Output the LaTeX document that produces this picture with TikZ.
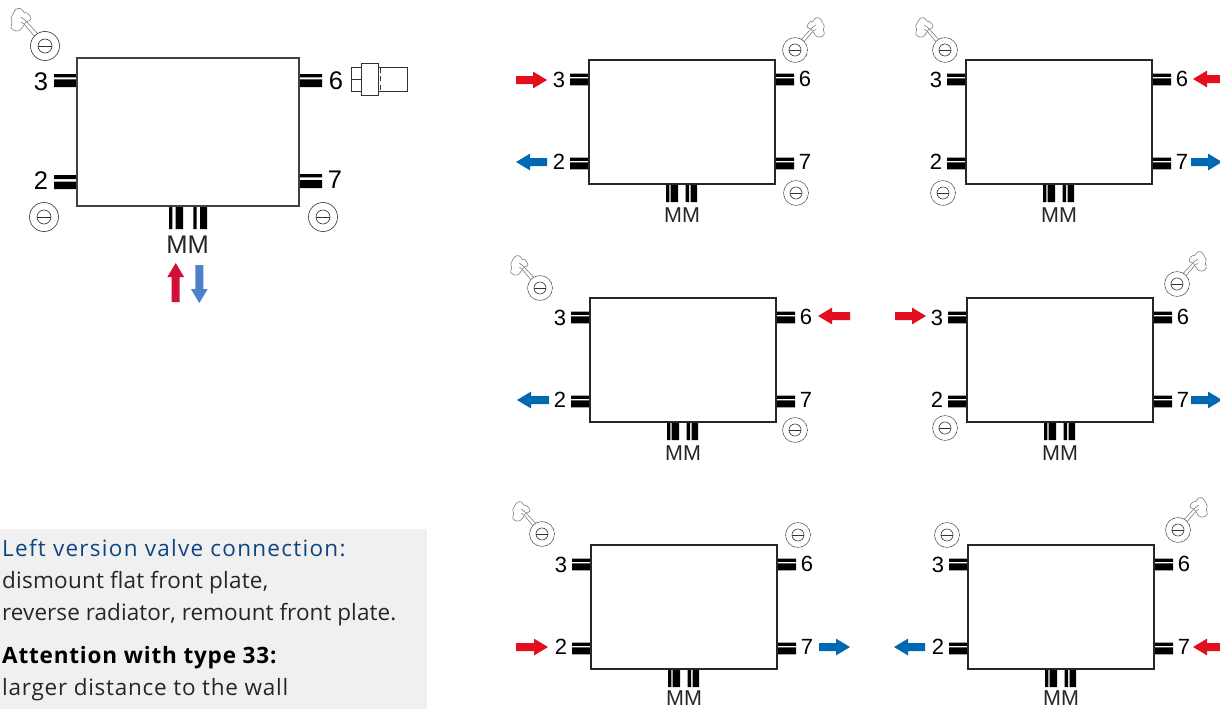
\documentclass[tikz,border=0pt]{standalone}
\usepackage{fontspec}
\setmainfont{Liberation Sans}
\newfontfamily\panelfont{Open Sans}
\definecolor{hotred}{HTML}{E30F1E}
\definecolor{coldblue}{HTML}{0069B4}
\definecolor{mainred}{HTML}{D0103A}
\definecolor{mainblue}{HTML}{4F81C7}
\definecolor{panelgray}{HTML}{F0F0F0}
\definecolor{headblue}{HTML}{0F4680}
\tikzset{
  heater/.style={draw=black!85,line width=1.1pt,fill=white,inner sep=0pt,outer sep=0pt,anchor=north west},
  numlbl/.style={inner sep=0pt,text=black,font=\fontsize{22}{22}\selectfont},
  mainlbl/.style={inner sep=0pt,text=black,font=\fontsize{25.5}{25.5}\selectfont},
  mmlbl/.style={inner sep=0pt,text=black!85,font=\fontsize{21.5}{21.5}\selectfont},
  paneltxt/.style={inner sep=0pt,anchor=base west,text=black!85},
  stub/.style={fill=black,draw=none},
  gaugeline/.style={draw=black!80,line width=0.6pt},
  fineDots/.style={dash pattern=on 0.9pt off 0.5pt},
  ventline/.style={draw=black!50,line width=0.6pt,fill=white}
}
\newcommand{\paneltext}[1]{\panelfont\fontsize{22.5}{26}\selectfont\addfontfeatures{LetterSpace=#1}}
% small radiator: top-left x,y; MM label y offset
\newcommand{\unitbox}[4]{%
  \begin{scope}[shift={(#2,#3)}]
    \fill[stub] (-19,13.5) rectangle (0,16.8) (-19,18.3) rectangle (0,25.3);
    \fill[stub] (-19,97.5) rectangle (0,100.8) (-19,102.3) rectangle (0,109.3);
    \fill[stub] (186,13.5) rectangle (205,16.8) (186,18.3) rectangle (205,25.3);
    \fill[stub] (186,97.5) rectangle (205,100.8) (186,102.3) rectangle (205,109.3);
    \fill[stub] (77,124) rectangle (80.3,142) (81.7,124) rectangle (89,142);
    \fill[stub] (96.7,124) rectangle (100,142) (101.7,124) rectangle (108,142);
    \node[heater,minimum width=186pt,minimum height=124pt] (#1) at (0,0) {};
    \node[numlbl] (#1-three) at (-30,20) {3};
    \node[numlbl] (#1-two) at (-30,102) {2};
    \node[numlbl] (#1-six) at (30+186,19) {6};
    \node[numlbl] (#1-seven) at (30+186,102) {7};
    \node[mmlbl] (#1-mm) at (93,#4) {MM};
  \end{scope}}
% gauge: name, x, y, scale, outer-ring style
\newcommand{\gauge}[5]{%
  \begin{scope}[shift={(#2,#3)},scale=#4]
    \draw[gaugeline,fill=white,#5] (0,0) circle (14.5);
    \draw[gaugeline,fill=white] (0,0) circle (7);
    \draw[gaugeline] (-7,0) -- (7,0);
    \coordinate (#1) at (0,0);
  \end{scope}}
% vent: gauge centre x,y, mirror (1 = cloud up-left, -1 = up-right), scale
\newcommand{\ventcloud}[4]{%
  \begin{scope}[shift={(#1,#2)},xscale=#3*#4,yscale=#4]
    \draw[ventline] plot[smooth cycle,tension=0.75] coordinates {
      (-14,-26.7) (-17.3,-32.7) (-21,-33.5) (-24,-37.3) (-29,-36.7) (-31.7,-32.7)
      (-34,-28.3) (-33,-23.3) (-34,-18.3) (-29,-15) (-24,-16.7) (-21.7,-20) (-19,-24)};
    \draw[ventline] (-7,-12) -- (-19,-25) -- (-24,-29) (-24,-24) -- (-21,-22) -- (-10,-9);
  \end{scope}}
\newcommand{\blockarrow}[6]{% name, x, y (tip), angle, colour, length
  \begin{scope}[shift={(#2,#3)},rotate=#4]
    \fill[#5] (0,0) -- (-14,-8.4) -- (-14,-4) -- (-#6,-4) -- (-#6,4) -- (-14,4) -- (-14,8.4) -- cycle;
    \coordinate (#1) at (0,0);
  \end{scope}}
\begin{document}
\begin{tikzpicture}[x=1pt,y=-1pt]
\clip (0,0) rectangle (1220,709);
\fill[white] (0,0) rectangle (1220,709);
% ---- main radiator ----
\fill[stub] (54,74) rectangle (77,77.4) (54,79.4) rectangle (77,87);
\fill[stub] (54,175) rectangle (77,179) (54,181.5) rectangle (77,189);
\fill[stub] (299,74) rectangle (322,77.4) (299,79.4) rectangle (322,87);
\fill[stub] (299,174) rectangle (322,177.4) (299,180) rectangle (322,188);
\fill[stub] (169,206) rectangle (172.4,229) (175.7,206) rectangle (183,229);
\fill[stub] (193.3,206) rectangle (196.7,229) (200,206) rectangle (207,229);
\node[heater,draw=black!75,minimum width=222pt,minimum height=148pt] (main) at (77,58) {};
\node[mainlbl] (m3) at (41,82) {3};
\node[mainlbl] (m2) at (41,181) {2};
\node[mainlbl] (m6) at (336,81) {6};
\node[mainlbl] (m7) at (335,180) {7};
\node[mainlbl,text=black!85] (mmm) at (187.5,245) {MM};
\ventcloud{45}{46}{1}{1}
\gauge{mg1}{45}{46}{1}{}
\gauge{mg2}{44}{217}{1}{}
\gauge{mg3}{323}{217}{1}{}
\blockarrow{mred}{175.7}{263}{90}{mainred}{39}
\blockarrow{mblue}{199.3}{303}{-90}{mainblue}{38}
% sensor at port 6
\begin{scope}[draw=black!80,line width=1pt]
  \draw (351,67.5) rectangle (361,91);
  \draw (351,79.5) -- (361,79.5);
  \draw[fill=white] (361,64) rectangle (378,95.5);
  \draw (378,67.5) -- (407.5,67.5) -- (407.5,91) -- (378,91);
  \draw[dash pattern=on 5pt off 3.5pt] (380,67.5) -- (380,91);
\end{scope}
% ---- small radiators ----
\unitbox{ua}{589}{60}{155}
\unitbox{ub}{966}{60}{155}
\unitbox{uc}{590}{298}{155}
\unitbox{ud}{967}{298}{155}
\unitbox{ue}{591}{545}{153.5}
\unitbox{uf}{968}{545}{153.5}
% vents and gauges
\ventcloud{795}{50}{-1}{0.86}
\gauge{ga1}{795}{50}{0.86}{fineDots}
\gauge{ga2}{796}{193}{0.86}{fineDots}
\ventcloud{945}{50}{1}{0.86}
\gauge{gb1}{945}{50}{0.86}{fineDots}
\gauge{gb2}{943}{193}{0.86}{fineDots}
\ventcloud{540}{288}{1}{0.86}
\gauge{gc1}{540}{288}{0.86}{fineDots}
\gauge{gc2}{795}{430}{0.86}{fineDots}
\ventcloud{1177}{284}{-1}{0.86}
\gauge{gd1}{1177}{284}{0.86}{fineDots}
\gauge{gd2}{945}{428}{0.86}{fineDots}
\ventcloud{542}{534}{1}{0.86}
\gauge{ge1}{542}{534}{0.86}{fineDots}
\gauge{ge2}{798}{535}{0.86}{fineDots}
\gauge{gf1}{947}{535}{0.86}{fineDots}
\ventcloud{1178}{530}{-1}{0.86}
\gauge{gf2}{1178}{530}{0.86}{fineDots}
% block arrows
\blockarrow{a1}{547}{80}{0}{hotred}{31}
\blockarrow{a2}{516}{162}{180}{coldblue}{31}
\blockarrow{b1}{1193}{79}{180}{hotred}{31}
\blockarrow{b2}{1222}{162}{0}{coldblue}{31}
\blockarrow{c1}{818}{316}{180}{hotred}{32}
\blockarrow{c2}{517}{400}{180}{coldblue}{32}
\blockarrow{d1}{926}{316}{0}{hotred}{31}
\blockarrow{d2}{1222}{400}{0}{coldblue}{31}
\blockarrow{e1}{548}{647}{0}{hotred}{32}
\blockarrow{e2}{850}{647}{0}{coldblue}{31}
\blockarrow{f1}{894}{647}{180}{coldblue}{31}
\blockarrow{f2}{1193}{647}{180}{hotred}{31}
% ---- text panel ----
\fill[panelgray] (0,529) rectangle (427,709);
\node[paneltxt,text=headblue] (t1) at (2,556.5) {\paneltext{5.7}Left version valve connection:};
\node[paneltxt] (t2) at (2,588.5) {\paneltext{1}dismount flat front plate,};
\node[paneltxt] (t3) at (2,620.5) {\paneltext{0.3}reverse radiator, remount front plate.};
\node[paneltxt,text=black] (t4) at (2,663.5) {\panelfont\bfseries\fontsize{22.5}{26}\selectfont\addfontfeatures{LetterSpace=3.6}Attention with type 33:};
\node[paneltxt] (t5) at (2,695.5) {\paneltext{3.3}larger distance to the wall};
\end{tikzpicture}
\end{document}
